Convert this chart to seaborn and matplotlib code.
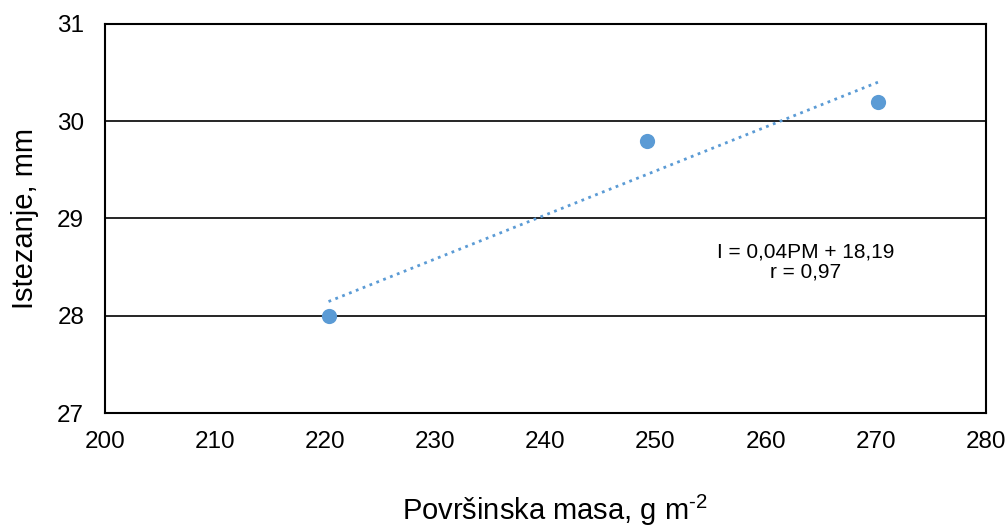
import numpy as np
import pandas as pd
import seaborn as sns
import matplotlib.pyplot as plt

# data
masa = [220.3, 249.2, 270.2]        # Površinska masa, g m-2
istezanje = [28.0, 29.8, 30.2]      # Istezanje, mm

df = pd.DataFrame({'masa': masa, 'istezanje': istezanje})

sns.set_style('white')
plt.rcParams['font.family'] = ['Liberation Sans', 'DejaVu Sans']
plt.rcParams['mathtext.fontset'] = 'custom'
plt.rcParams['mathtext.rm'] = 'Liberation Sans'
plt.rcParams['mathtext.it'] = 'Liberation Sans:italic'
plt.rcParams['text.color'] = 'black'
plt.rcParams['axes.labelcolor'] = 'black'

fig = plt.figure(figsize=(10.07, 5.27), dpi=100)
ax = fig.add_axes([0.1043, 0.2163, 0.8747, 0.7382])

sns.regplot(data=df, x='masa', y='istezanje', ax=ax, ci=None,
            scatter_kws={'s': 120, 'color': '#5B9BD5', 'alpha': 1, 'linewidths': 0, 'zorder': 4},
            line_kws={'color': '#5B9BD5', 'ls': ':', 'lw': 2.0, 'zorder': 3})

ax.set_xlim(200, 280)
ax.set_ylim(27, 31)
ax.set_xticks(range(200, 281, 10))
ax.set_yticks(range(27, 32))

ax.grid(axis='y', color='black', lw=1.2)
ax.set_axisbelow(True)
for s in ax.spines.values():
    s.set_color('black')
    s.set_linewidth(1.5)

ax.tick_params(length=0, labelsize=17.5, colors='black')
ax.tick_params(axis='x', pad=13)
ax.tick_params(axis='y', pad=15)

ax.set_xlabel(r'Površinska masa, g m$^{\text{-2}}$', fontsize=21)
ax.xaxis.set_label_coords(0.511, -0.205)
ax.set_ylabel('Istezanje, mm', fontsize=21, labelpad=13)

ax.text(263.6, 28.55, 'I = 0,04PM + 18,19\nr = 0,97', fontsize=15,
        ha='center', va='center', multialignment='center', linespacing=1.05)

plt.savefig('out.png', dpi=100)
